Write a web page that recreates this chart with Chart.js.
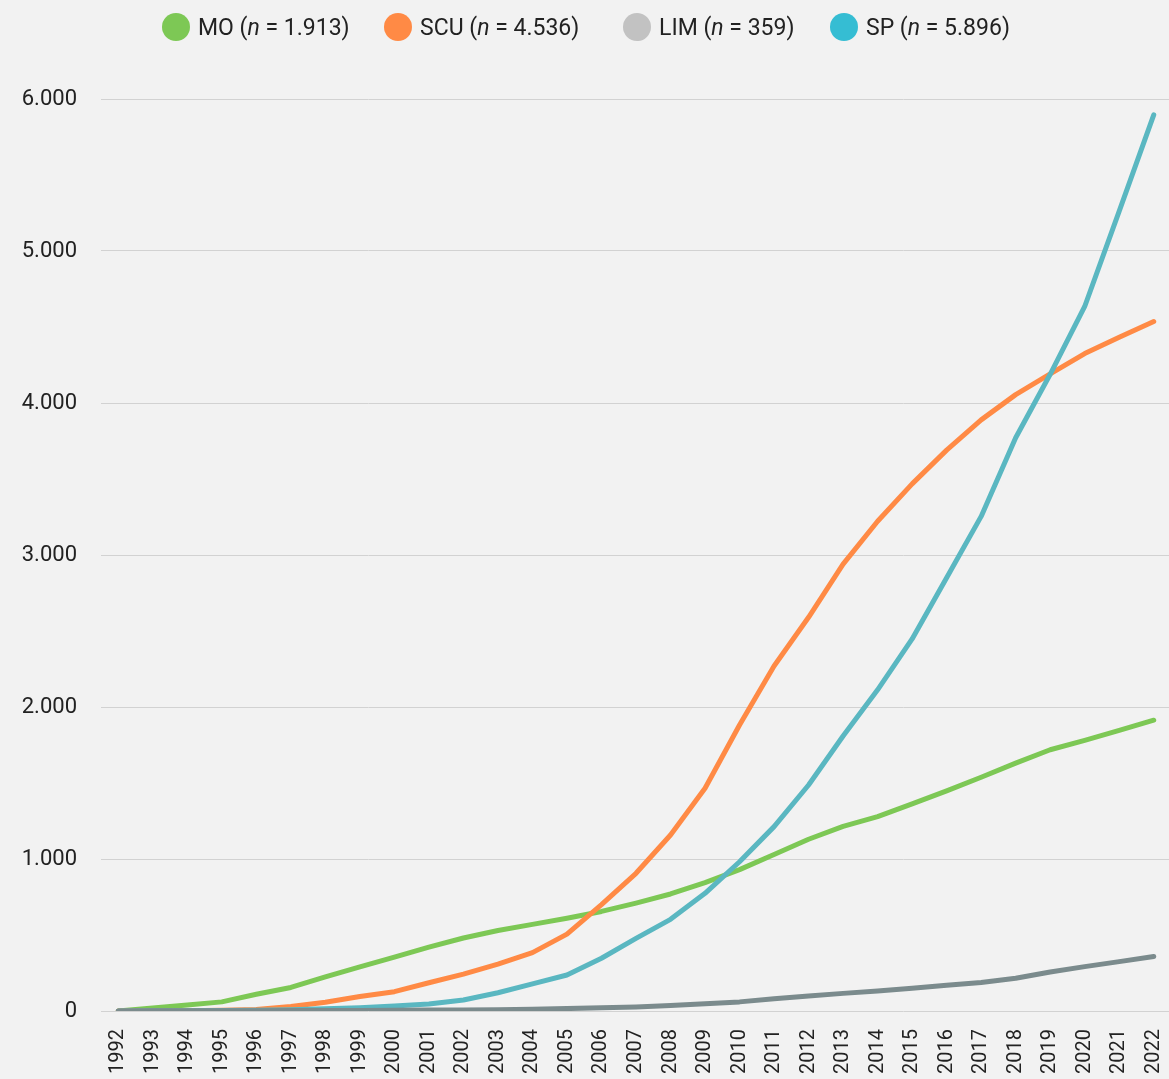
<!DOCTYPE html>
<html lang="it">
<head>
  <meta charset="UTF-8">
  <title>MO / SCU / LIM / SP</title>
  <script src="https://cdn.jsdelivr.net/npm/chart.js"></script>
  <style>
    html, body { margin: 0; padding: 0; background: #f2f2f2; overflow: hidden; }
    body { width: 1169px; height: 1079px; position: relative; font-family: Roboto, "Noto Sans", sans-serif; }
    #wrap { position: absolute; left: 0; top: 0; width: 1172px; height: 1079px; }
    .legend { position: absolute; top: 0; left: 0; width: 1169px; height: 56px; }
    .item { position: absolute; top: 13px; display: flex; align-items: center; font-size: 23px; color: #222; white-space: nowrap; }
    .dot { width: 28px; height: 28px; border-radius: 50%; margin-right: 8px; }
  </style>
</head>
<body>
  <div id="wrap"><canvas id="growth" width="1172" height="1079"></canvas></div>

  <!-- legend: line colours differ from swatch colours in the original -->
  <div class="legend">
    <div class="item" style="left:162px"><span class="dot" style="background:#7dc855"></span>MO&nbsp;(<i>n</i>&nbsp;=&nbsp;1.913)</div>
    <div class="item" style="left:384px"><span class="dot" style="background:#ff8a45"></span>SCU&nbsp;(<i>n</i>&nbsp;=&nbsp;4.536)</div>
    <div class="item" style="left:623px"><span class="dot" style="background:#c2c2c2"></span>LIM&nbsp;(<i>n</i>&nbsp;=&nbsp;359)</div>
    <div class="item" style="left:830px"><span class="dot" style="background:#35bdd3"></span>SP&nbsp;(<i>n</i>&nbsp;=&nbsp;5.896)</div>
  </div>

  <script>
    const years = ["1992", "1993", "1994", "1995", "1996", "1997", "1998", "1999", "2000", "2001",
                   "2002", "2003", "2004", "2005", "2006", "2007", "2008", "2009", "2010", "2011",
                   "2012", "2013", "2014", "2015", "2016", "2017", "2018", "2019", "2020", "2021", "2022"];

    const mo  = [0, 20, 40, 60, 110, 155, 225, 290, 355, 420, 480, 530, 570, 610, 655, 710,
                 770, 845, 930, 1030, 1130, 1215, 1279, 1363, 1448, 1538, 1631, 1719, 1780, 1846, 1913];
    const scu = [0, 0, 2, 5, 10, 30, 57, 95, 127, 186, 243, 309, 384, 506, 700, 906,
                 1158, 1465, 1882, 2270, 2590, 2940, 3222, 3468, 3690, 3889, 4055, 4191, 4325, 4433, 4536];
    const lim = [0, 1, 1, 2, 2, 3, 4, 4, 5, 6, 7, 9, 11, 16, 21, 27,
                 36, 47, 60, 80, 98, 116, 132, 149, 169, 187, 215, 257, 292, 325, 359];
    const sp  = [0, 1, 2, 3, 5, 8, 14, 22, 33, 46, 72, 120, 178, 237, 347, 478,
                 603, 774, 982, 1213, 1487, 1809, 2113, 2448, 2851, 3254, 3771, 4189, 4635, 5262, 5896];

    const yTicks = [0, 1000, 2000, 3000, 4000, 5000, 6000];

    const line = (label, data, color, order) => ({
      label, data, order,
      borderColor: color,
      borderWidth: 5,
      pointRadius: 0,
      tension: 0,
      borderCapStyle: "round",
      borderJoinStyle: "round",
      fill: false
    });

    new Chart("growth", {
      type: "line",
      data: {
        labels: years,
        datasets: [
          line("MO", mo, "#7dc855", 3),
          line("SCU", scu, "#ff8a45", 2),
          line("LIM", lim, "#7b8b8d", 0),
          line("SP", sp, "#5ab7c1", 1)
        ]
      },
      options: {
        responsive: false,
        animation: false,
        devicePixelRatio: 1,
        layout: { padding: { top: 99, right: 1, bottom: 0, left: 0 } },
        plugins: { legend: { display: false }, tooltip: { enabled: false } },
        scales: {
          x: {
            offset: true,
            grid: { display: false, drawTicks: false },
            border: { display: false },
            ticks: {
              autoSkip: false,
              minRotation: 90,
              maxRotation: 90,
              padding: 18,
              color: "#222",
              font: { family: "Roboto", size: 20 }
            },
            afterFit: s => {
              s.height = 68;
              s.paddingLeft = 0;
              s.paddingRight = 0;
            }
          },
          y: {
            min: 0,
            max: 6000,
            afterBuildTicks: s => { s.ticks = yTicks.map(v => ({ value: v })); },
            grid: { color: "#d2d2d2", lineWidth: 1, drawTicks: false },
            border: { display: false },
            ticks: {
              padding: 24,
              color: "#222",
              font: { family: "Roboto", size: 22 },
              callback: v => v.toLocaleString("de-DE")
            },
            afterFit: s => { s.width = 101; }
          }
        }
      }
    });
  </script>
</body>
</html>
